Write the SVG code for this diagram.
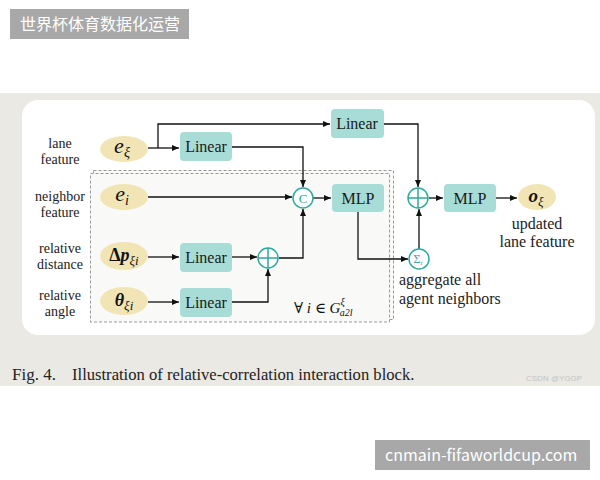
<svg xmlns="http://www.w3.org/2000/svg" width="600" height="480" viewBox="0 0 600 480">
<defs>
<marker id="ah" markerWidth="8" markerHeight="8" refX="7" refY="4" orient="auto" markerUnits="userSpaceOnUse">
<path d="M0,1 L7,4 L0,7 Z" fill="#111"/>
</marker>
<style>
.lbl{font-family:"Liberation Serif","DejaVu Serif",serif;font-size:14px;fill:#222;text-anchor:middle}
.box{fill:#a8dcd6}
.bt{font-family:"Liberation Serif","DejaVu Serif",serif;font-size:16px;fill:#1a1a1a;text-anchor:middle}
.ell{fill:#f2e5b5}
.math{font-family:"Liberation Serif","DejaVu Serif",serif;font-style:italic;fill:#111}
.mc{text-anchor:middle}
.circ{fill:#fff;stroke:#2fa99c;stroke-width:1.5}
.cl{fill:none;stroke:#2fa99c;stroke-width:1.5}
.conn path{fill:none;stroke:#111;stroke-width:1.3;marker-end:url(#ah)}
.txt{font-family:"Liberation Serif","DejaVu Serif",serif;font-size:16px;fill:#222}
.wm{font-family:"Noto Sans CJK SC","Noto Sans",sans-serif;font-size:16px;fill:#fff}
</style>
</defs>
<rect x="0" y="0" width="600" height="480" fill="#fff"/>
<rect x="0" y="93" width="600" height="293" fill="#ebe9e3"/>
<rect x="22" y="100" width="573" height="235" rx="16" fill="#fff"/>
<g id="group-box">
<rect x="93.5" y="170.5" width="300" height="149" fill="#f9f9f8" stroke="#999" stroke-width="1" stroke-dasharray="3,2"/>
<rect x="90.5" y="173.5" width="299" height="148.5" fill="#f9f9f8" stroke="#999" stroke-width="1" stroke-dasharray="3,2"/>
</g>
<g id="labels">
<text class="lbl" x="60" y="148">lane</text>
<text class="lbl" x="60" y="164">feature</text>
<text class="lbl" x="60" y="201">neighbor</text>
<text class="lbl" x="60" y="217">feature</text>
<text class="lbl" x="60" y="253">relative</text>
<text class="lbl" x="60" y="269">distance</text>
<text class="lbl" x="60" y="300">relative</text>
<text class="lbl" x="60" y="316">angle</text>
</g>
<g id="connectors" class="conn">
<path d="M148,148 H179"/>
<path d="M158,148 V124 H330"/>
<path d="M232,147 H303 V187"/>
<path d="M148,197 H292"/>
<path d="M313,198 H331"/>
<path d="M358,212 V259 H408"/>
<path d="M419,249 V209"/>
<path d="M384,124 H418 V187"/>
<path d="M429,198 H443"/>
<path d="M496,198 H517"/>
<path d="M148,257 H179"/>
<path d="M148,302 H179"/>
<path d="M232,257 H257"/>
<path d="M232,302 H268 V269"/>
<path d="M279,258 H303 V209"/>
</g>
<g id="e-xi"><ellipse class="ell" cx="124" cy="149" rx="24" ry="13"/><text class="math mc" x="122" y="153" font-size="22">e<tspan font-size="14" dy="4">ξ</tspan></text></g>
<g id="e-i"><ellipse class="ell" cx="124" cy="197" rx="24" ry="13"/><text class="math mc" x="122" y="201" font-size="22">e<tspan font-size="14" dy="4">i</tspan></text></g>
<g id="dp"><ellipse class="ell" cx="124" cy="256" rx="24" ry="14"/><text class="math mc" x="124" y="261" font-size="18" font-weight="bold"><tspan font-style="normal">Δ</tspan>p<tspan font-size="13" dy="4" font-weight="normal">ξi</tspan></text></g>
<g id="theta"><ellipse class="ell" cx="124" cy="301" rx="24" ry="14"/><text class="math mc" x="124" y="306" font-size="18" font-weight="bold">θ<tspan font-size="13" dy="4" font-weight="normal">ξi</tspan></text></g>
<g id="o-xi"><ellipse class="ell" cx="537" cy="197" rx="19" ry="13"/><text class="math mc" x="536" y="202" font-size="19" font-weight="bold">o<tspan font-size="13" dy="4" font-weight="normal">ξ</tspan></text></g>
<g id="linear1"><rect class="box" x="180" y="132" width="52" height="29" rx="4"/><text class="bt" x="206" y="152">Linear</text></g>
<g id="linear-top"><rect class="box" x="331" y="109" width="53" height="29" rx="4"/><text class="bt" x="357" y="129">Linear</text></g>
<g id="linear-dp"><rect class="box" x="180" y="243" width="52" height="29" rx="4"/><text class="bt" x="206" y="263">Linear</text></g>
<g id="linear-theta"><rect class="box" x="180" y="288" width="52" height="29" rx="4"/><text class="bt" x="206" y="308">Linear</text></g>
<g id="mlp1"><rect class="box" x="332" y="184" width="52" height="28" rx="4"/><text class="bt" x="358" y="204">MLP</text></g>
<g id="mlp2"><rect class="box" x="444" y="184" width="52" height="28" rx="4"/><text class="bt" x="470" y="204">MLP</text></g>
<g id="concat"><circle class="circ" cx="303" cy="198" r="10"/><text x="303" y="203" font-family="Liberation Serif,serif" font-size="13" fill="#2fa99c" text-anchor="middle">C</text></g>
<g id="plus-top"><circle class="circ" cx="418" cy="198" r="10"/><path class="cl" d="M408,198 H428 M418,188 V208"/></g>
<g id="plus-bot"><circle class="circ" cx="268" cy="258" r="10"/><path class="cl" d="M258,258 H278 M268,248 V268"/></g>
<g id="sum"><circle class="circ" cx="419" cy="259" r="10"/><text x="418" y="263" font-family="Liberation Serif,serif" font-size="12" fill="#2fa99c" text-anchor="middle">Σ<tspan font-size="7" dy="2" font-style="italic">i</tspan></text></g>
<text class="txt" x="537" y="229" text-anchor="middle">updated</text>
<text class="txt" x="537" y="247" text-anchor="middle">lane feature</text>
<text class="txt" x="399" y="285">aggregate all</text>
<text class="txt" x="399" y="304">agent neighbors</text>
<text class="math" x="294" y="313" font-size="15"><tspan font-style="normal">∀</tspan> i <tspan font-style="normal">∈</tspan> G<tspan font-size="10" dy="-8">ξ</tspan><tspan font-size="10" dy="11" dx="-5">a2l</tspan></text>
<text x="12" y="380" font-family="Liberation Serif,serif" font-size="17" fill="#222">Fig. 4.</text>
<text x="72" y="380" font-family="Liberation Serif,serif" font-size="16.6" fill="#222">Illustration of relative-correlation interaction block.</text>
<text x="526" y="381" font-family="Liberation Sans,sans-serif" font-size="8" fill="#c4c4c4">CSDN @YGGP</text>
<rect x="10" y="9" width="179" height="30" fill="#a8a8a8"/>
<text class="wm" x="20" y="30">世界杯体育数据化运营</text>
<rect x="375" y="440" width="215" height="30" fill="#a8a8a8"/>
<text class="wm" x="385" y="461" font-family="Liberation Sans,sans-serif">cnmain-fifaworldcup.com</text>
</svg>
